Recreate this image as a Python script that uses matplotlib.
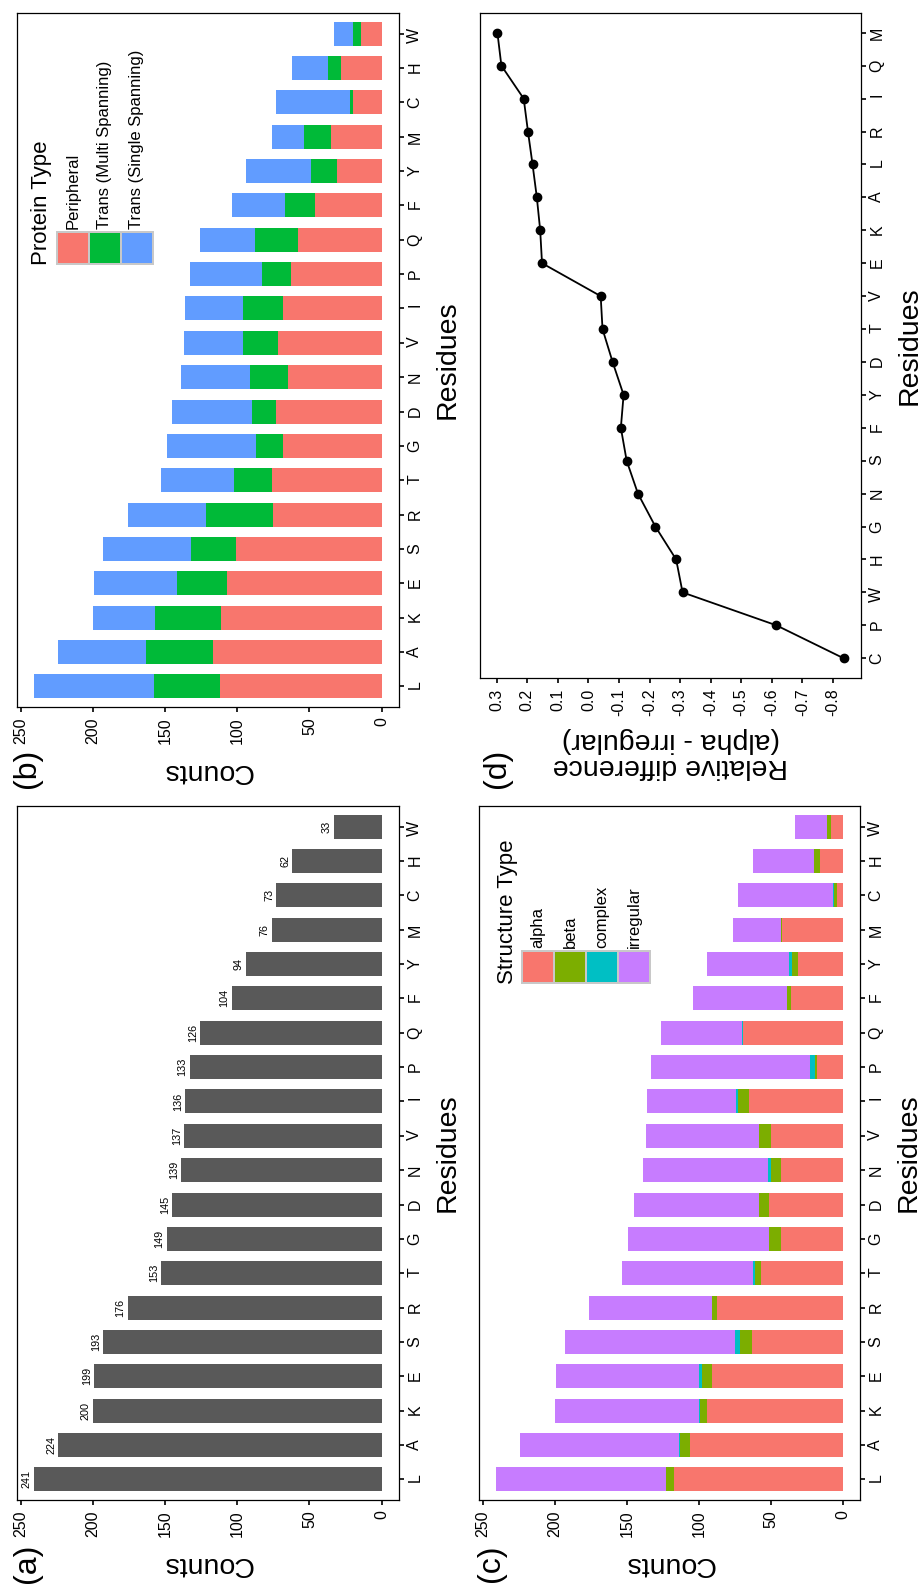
import matplotlib
matplotlib.use("Agg")
import matplotlib.pyplot as plt
from matplotlib.patches import Rectangle
import numpy as np

plt.rcParams["font.family"] = ["Liberation Sans", "DejaVu Sans"]

# residues, bottom (L) to top (W)
RESIDUES = ["L", "A", "K", "E", "S", "R", "T", "G", "D", "N",
            "V", "I", "P", "Q", "F", "Y", "M", "C", "H", "W"]
TOTALS = [241, 224, 200, 199, 193, 176, 153, 149, 145, 139,
          137, 136, 133, 126, 104, 94, 76, 73, 62, 33]

# (b) protein type
PERIPHERAL = [112, 117, 111, 107, 101, 75, 76, 68, 73, 65,
              72, 68, 63, 58, 46, 31, 35, 20, 28, 14]
MULTI_SPAN = [46, 46, 46, 35, 31, 47, 26, 19, 17, 26,
              24, 28, 20, 30, 21, 18, 19, 2, 9, 6]
SINGLE_SPAN = [83, 61, 43, 57, 61, 54, 51, 62, 55, 48,
               41, 40, 50, 38, 37, 45, 22, 51, 25, 13]

# (c) structure type
ALPHA = [117, 106, 94, 91, 63, 87, 57, 43, 51, 43,
         50, 65, 18, 69, 36, 31, 42, 4, 16, 8]
BETA = [6, 7, 5, 7, 8, 4, 4, 8, 7, 7,
        8, 8, 1, 0, 3, 4, 1, 2, 4, 3]
COMPLEX = [0, 1, 1, 2, 4, 0, 1, 0, 0, 2,
           0, 1, 4, 1, 0, 2, 0, 1, 0, 0]
IRREGULAR = [118, 110, 100, 99, 118, 85, 91, 98, 87, 87,
             79, 62, 110, 56, 65, 57, 33, 66, 42, 22]

# (d) relative difference, bottom (C) to top (M)
D_RESIDUES = ["C", "P", "W", "H", "G", "N", "S", "F", "Y", "D",
              "T", "V", "E", "K", "A", "L", "R", "I", "Q", "M"]
D_VALUES = [-0.835, -0.615, -0.308, -0.287, -0.219, -0.162, -0.125, -0.106, -0.115, -0.079,
            -0.046, -0.040, 0.152, 0.158, 0.169, 0.183, 0.198, 0.212, 0.285, 0.298]

PROTEIN_LABELS = ["Peripheral", "Trans (Multi Spanning)", "Trans (Single Spanning)"]
PROTEIN_COLORS = ["#F8766D", "#00BA38", "#619CFF"]
STRUCT_LABELS = ["alpha", "beta", "complex", "irregular"]
STRUCT_COLORS = ["#F8766D", "#7CAE00", "#00BFC4", "#C77CFF"]

W, H = 924, 1585
LABEL_SIZE = 20.5
TICK_SIZE = 11.5


def px_axes(fig, x0, y0, x1, y1):
    # axes from pixel box (top-left origin)
    return fig.add_axes([x0 / W, 1 - y1 / H, (x1 - x0) / W, (y1 - y0) / H])


def style_axis(ax, labels):
    pos = np.arange(len(labels))
    ax.set_ylim(-0.6, len(labels) - 0.4)
    ax.set_yticks(pos)
    ax.set_yticklabels(labels)
    ax.yaxis.set_ticks_position("right")
    ax.xaxis.set_ticks_position("bottom")
    ax.tick_params(axis="y", labelrotation=90, labelsize=TICK_SIZE, length=3.5, width=1.2, pad=2.5)
    ax.tick_params(axis="x", labelrotation=90, labelsize=TICK_SIZE, length=3.5, width=1.2, pad=4)
    for sp in ax.spines.values():
        sp.set_linewidth(0.9)
    ax.set_ylabel("Residues", fontsize=LABEL_SIZE, rotation=90, labelpad=9)
    ax.yaxis.set_label_position("right")


def counts_axis(ax):
    ax.set_xlim(253.05, -12.05)
    ax.set_xticks([250, 200, 150, 100, 50, 0])
    ax.set_xlabel("Counts", fontsize=LABEL_SIZE, rotation=180, labelpad=10)


def rot_legend(ax, title, labels, colors, x0, y_top, key=30):
    # legend drawn in pixel units relative to the axes box
    bb = ax.get_position()
    ax_x0, ax_w = bb.x0 * W, bb.width * W
    ax_y1, ax_h = (1 - bb.y0) * H, bb.height * H
    fx = lambda px: (px - ax_x0) / ax_w
    fy = lambda py: (ax_y1 - py) / ax_h
    n = len(labels)
    gap = 2
    total = n * key + (n - 1) * gap
    ax.add_patch(Rectangle((fx(x0 - 2), fy(y_top + key + 2)), (total + 4) / ax_w, (key + 4) / ax_h,
                           transform=ax.transAxes, facecolor="#C8C8C8", edgecolor="none", zorder=5))
    for i, (lab, col) in enumerate(zip(labels, colors)):
        kx = x0 + i * (key + gap)
        ax.add_patch(Rectangle((fx(kx), fy(y_top + key)), key / ax_w, key / ax_h,
                               transform=ax.transAxes, facecolor=col, edgecolor="none", zorder=6))
        ax.text(fx(kx + key / 2), fy(y_top - 4), lab, transform=ax.transAxes, rotation=90,
                ha="center", va="bottom", fontsize=12, zorder=6)
    ax.text(fx(x0 - 16), fy(y_top + key + 2), title, transform=ax.transAxes, rotation=90,
            ha="center", va="bottom", fontsize=16, zorder=6)


fig = plt.figure(figsize=(W / 100, H / 100), dpi=100)
pos = np.arange(len(RESIDUES))

# (b) protein type, top left
ax_b = px_axes(fig, 16.5, 13, 399, 707)
left = np.zeros(len(RESIDUES))
for vals, col in zip([PERIPHERAL, MULTI_SPAN, SINGLE_SPAN], PROTEIN_COLORS):
    ax_b.barh(pos, vals, left=left, height=0.7, color=col, linewidth=0)
    left = left + np.array(vals)
style_axis(ax_b, RESIDUES)
counts_axis(ax_b)
rot_legend(ax_b, "Protein Type", PROTEIN_LABELS, PROTEIN_COLORS, 58, 233)

# (d) relative difference, top right
ax_d = px_axes(fig, 480, 13, 861, 678)
dpos = np.arange(len(D_RESIDUES))
ax_d.plot(D_VALUES, dpos, color="black", linewidth=1.3, marker="o", markersize=6)
style_axis(ax_d, D_RESIDUES)
ax_d.set_xlim(0.355, -0.892)
dticks = np.round(np.arange(0.3, -0.85, -0.1), 1)
ax_d.set_xticks(dticks)
ax_d.set_xticklabels([f"{abs(t):.1f}" if abs(t) < 1e-9 else f"{t:.1f}" for t in dticks])
ax_d.set_xlabel("Relative difference\n(alpha - irregular)", fontsize=LABEL_SIZE,
                rotation=180, labelpad=8, linespacing=1.0)

# (a) totals, bottom left
ax_a = px_axes(fig, 16.5, 806, 399, 1500)
ax_a.barh(pos, TOTALS, height=0.7, color="#595959", linewidth=0)
for p, v in zip(pos, TOTALS):
    ax_a.annotate(str(v), (v, p), xytext=(-1.5, 0), textcoords="offset points",
                  rotation=90, ha="right", va="center", fontsize=7.8)
style_axis(ax_a, RESIDUES)
counts_axis(ax_a)

# (c) structure type, bottom right
ax_c = px_axes(fig, 478.5, 806, 860, 1500)
left = np.zeros(len(RESIDUES))
for vals, col in zip([ALPHA, BETA, COMPLEX, IRREGULAR], STRUCT_COLORS):
    ax_c.barh(pos, vals, left=left, height=0.7, color=col, linewidth=0)
    left = left + np.array(vals)
style_axis(ax_c, RESIDUES)
counts_axis(ax_c)
rot_legend(ax_c, "Structure Type", STRUCT_LABELS, STRUCT_COLORS, 523, 952)

# panel tags
for tag, x, y in [("(b)", 27, 768), ("(d)", 497, 768), ("(a)", 27, 1563), ("(c)", 491, 1563)]:
    fig.text(x / W, 1 - y / H, tag, rotation=90, ha="center", va="center", fontsize=23)

fig.savefig("out.png", dpi=100, facecolor="white")
